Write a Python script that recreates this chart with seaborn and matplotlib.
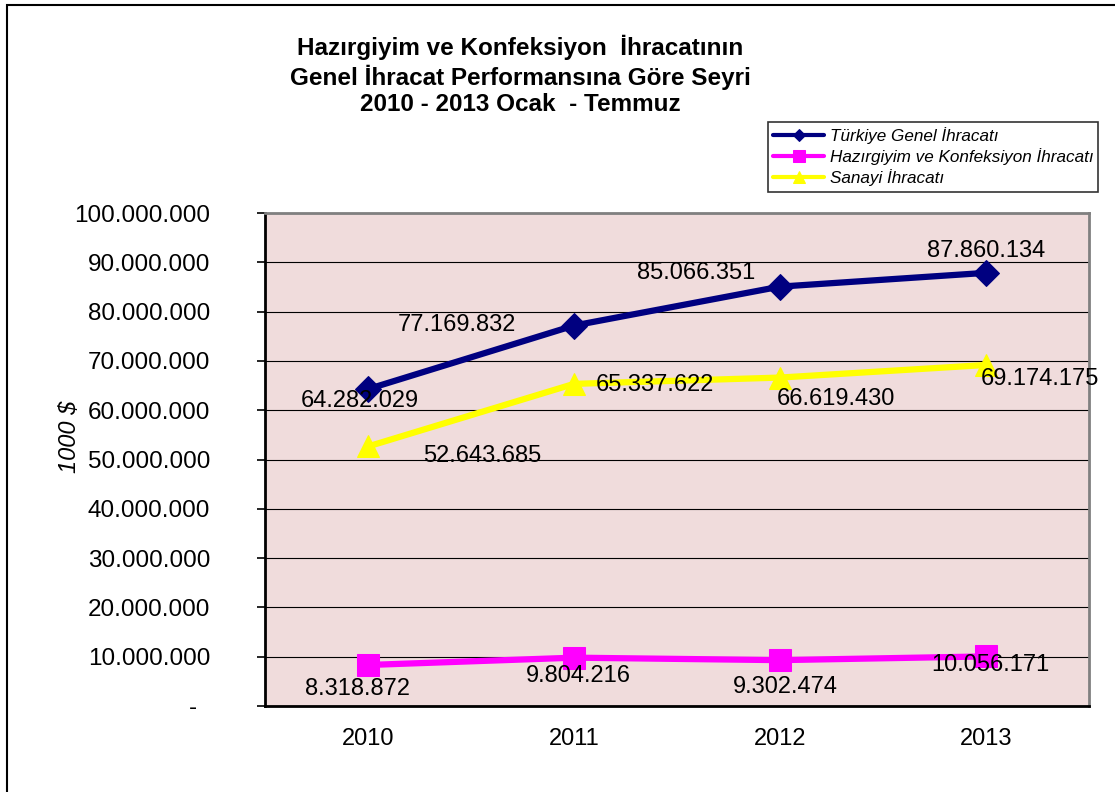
import matplotlib
matplotlib.use("Agg")
import matplotlib.pyplot as plt
import matplotlib.ticker as mticker
from matplotlib.patches import Rectangle
import pandas as pd
import seaborn as sns

years = [2010, 2011, 2012, 2013]
genel = [64282029, 77169832, 85066351, 87860134]
hazirgiyim = [8318872, 9804216, 9302474, 10056171]
sanayi = [52643685, 65337622, 66619430, 69174175]
names = ["Türkiye Genel İhracatı", "Hazırgiyim ve Konfeksiyon İhracatı", "Sanayi İhracatı"]
title = "Hazırgiyim ve Konfeksiyon  İhracatının\nGenel İhracat Performansına Göre Seyri\n2010 - 2013 Ocak  - Temmuz"

df = pd.DataFrame({"yil": years, names[0]: genel, names[1]: hazirgiyim, names[2]: sanayi})

sns.set_style("white")
plt.rcParams["font.family"] = ["Liberation Sans", "DejaVu Sans"]
plt.rcParams["text.color"] = "black"
plt.rcParams["xtick.color"] = "black"
plt.rcParams["ytick.color"] = "black"

fig = plt.figure(figsize=(11.15, 7.92), dpi=100)
ax = fig.add_axes([265 / 1115, 1 - 706 / 792, (1089 - 265) / 1115, (706 - 213) / 792])
ax.set_facecolor("#F0DCDC")

styles = [
    ("#000080", "D", 13),
    ("#FF00FF", "s", 16),
    ("#FFFF00", "^", 16),
]
# label offsets in pixels, per series, per year
offsets = [
    [(-8, -12), (-117, 1), (-84, 14), (0, 22)],
    [(-11, -24), (4, -18), (5, -27), (4, -9)],
    [(114, -10), (81, -1), (56, -21), (54, -14)],
]

for name, (col, mk, ms), offs in zip(names, styles, offsets):
    sns.lineplot(data=df, x="yil", y=name, ax=ax, color=col, marker=mk, markersize=ms,
                 markeredgecolor=col, linewidth=4.5, label=name, zorder=3)
    for x, v, (dx, dy) in zip(df["yil"], df[name], offs):
        ax.annotate(f"{v:,}".replace(",", "."), (x, v), xytext=(dx, dy), textcoords="offset pixels",
                    ha="center", va="center", fontsize=17, zorder=4)

ax.set_xlim(2009.5, 2013.5)
ax.set_ylim(0, 100000000)
ax.yaxis.set_major_locator(mticker.MultipleLocator(10000000))
ax.yaxis.set_major_formatter(mticker.FuncFormatter(
    lambda v, p: "-  " if v == 0 else f"{int(v):,}".replace(",", ".")))
ax.set_xticks(years)
ax.set_xticks([y - 0.5 for y in years] + [years[-1] + 0.5], minor=True)
ax.tick_params(axis="x", which="major", length=0, pad=16, labelsize=17)
ax.tick_params(axis="x", which="minor", length=5.5, width=1.2, direction="out", color="black")
ax.tick_params(axis="y", length=5.5, width=1.2, direction="out", color="black", pad=34, labelsize=17.5, left=True)
ax.grid(axis="y", color="black", linewidth=0.8)
ax.set_axisbelow(True)
ax.set_xlabel("")
ax.set_ylabel("")

for s in ["left", "bottom"]:
    ax.spines[s].set_color("black")
    ax.spines[s].set_linewidth(2)
for s in ["top", "right"]:
    ax.spines[s].set_color("#808080")
    ax.spines[s].set_linewidth(2)

leg = ax.legend(loc="upper left", bbox_to_anchor=(768 / 1115, 1 - 122 / 792), bbox_transform=fig.transFigure,
                prop={"style": "italic", "size": 12.3}, frameon=True, fancybox=False,
                edgecolor="black", borderaxespad=0, handlelength=3.0, handletextpad=0.3,
                labelspacing=0.25, borderpad=0.3, markerscale=0.5)
leg.get_frame().set_linewidth(1.2)
for h in leg.get_lines():
    h.set_linewidth(3)

fig.text(520 / 1115, 1 - 35 / 792, title, ha="center", va="top", fontsize=17.5, fontweight="bold",
         linespacing=1.2)
fig.text(70 / 1115, 1 - 437 / 792, "1000 $", rotation=90, ha="center", va="center", fontsize=17,
         style="italic")

fig.add_artist(Rectangle((7 / 1115, -0.1), 1.2, 1.1 - 5 / 792, transform=fig.transFigure,
                         fill=False, edgecolor="black", linewidth=1.5, clip_on=False))

fig.savefig("out.png", dpi=100)
